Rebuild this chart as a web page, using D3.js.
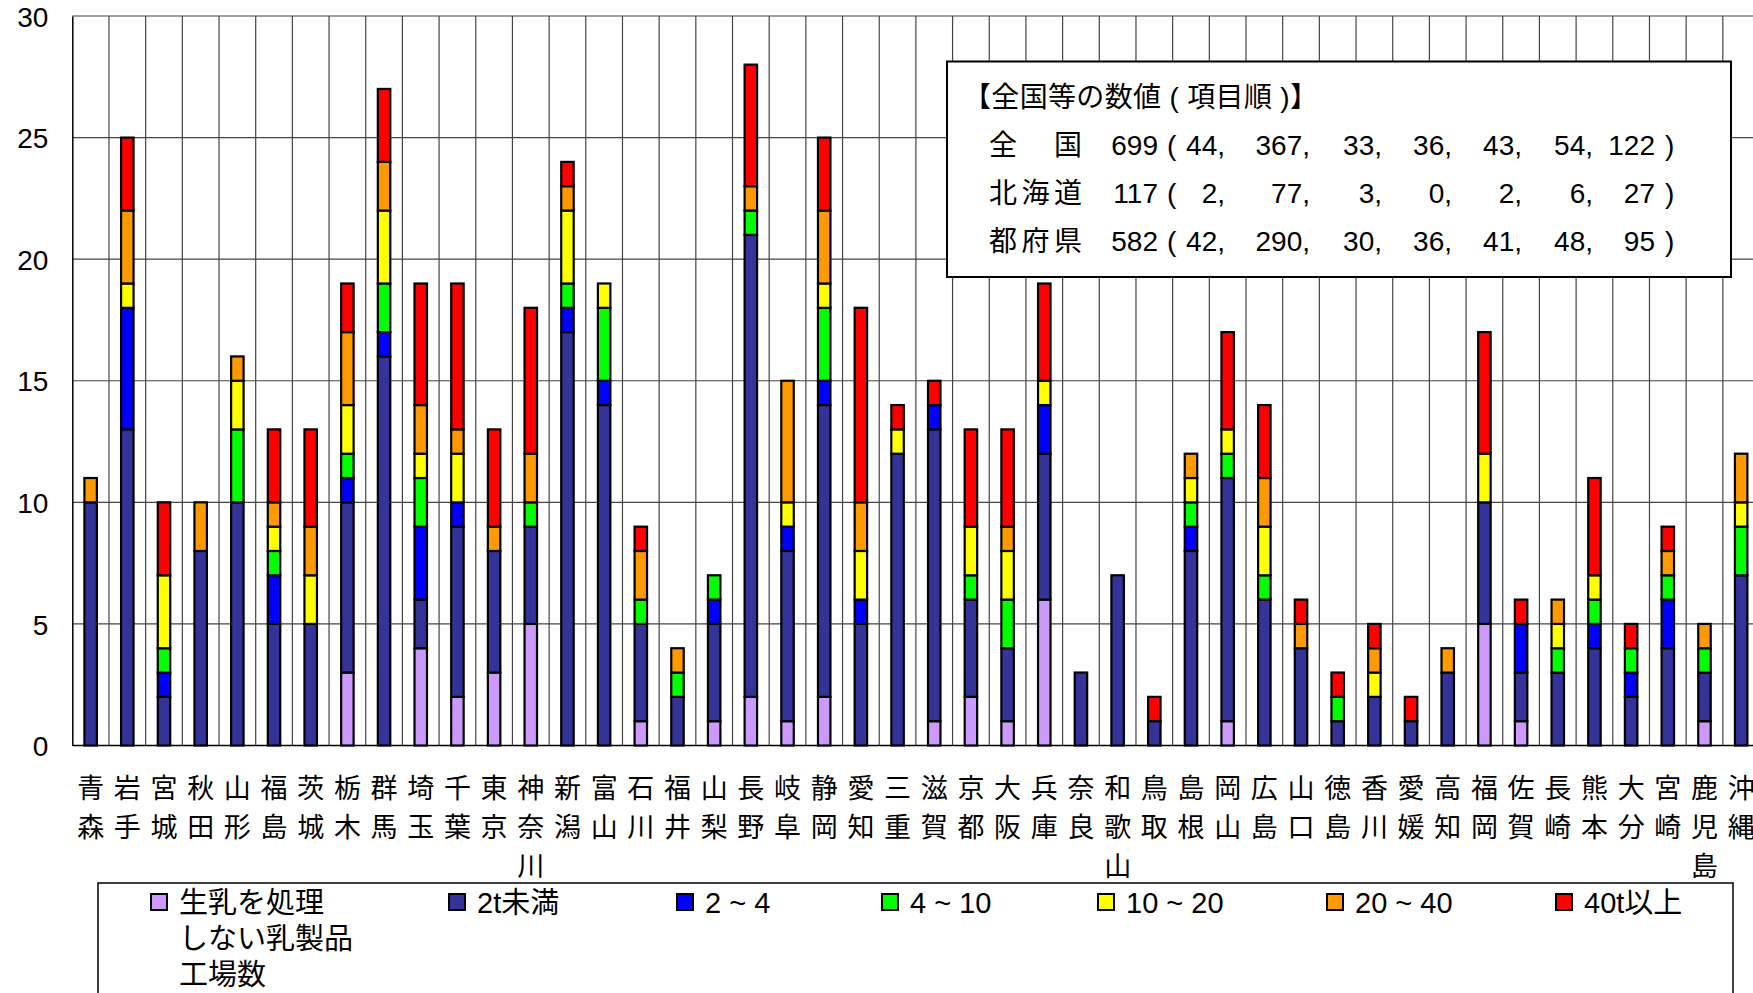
<!DOCTYPE html>
<html lang="ja">
<head>
<meta charset="utf-8">
<script src="https://cdn.jsdelivr.net/npm/d3@7"></script>
<style>
  body { margin: 0; background: #fff; }
  svg { display: block; }
  text { font-family: "Liberation Sans", "Noto Sans CJK JP", sans-serif; fill: #000; }
</style>
</head>
<body>
<div class="chartContainer"></div>
<script>
// categories (prefectures, Hokkaido excluded)
const prefectures = ['青森', '岩手', '宮城', '秋田', '山形', '福島', '茨城', '栃木', '群馬', '埼玉',
                     '千葉', '東京', '神奈川', '新潟', '富山', '石川', '福井', '山梨', '長野', '岐阜',
                     '静岡', '愛知', '三重', '滋賀', '京都', '大阪', '兵庫', '奈良', '和歌山', '鳥取',
                     '島根', '岡山', '広島', '山口', '徳島', '香川', '愛媛', '高知', '福岡', '佐賀',
                     '長崎', '熊本', '大分', '宮崎', '鹿児島', '沖縄'];

// factories by daily raw-milk volume
const raw     = [0,0,0,0,0,0,0,3,0,4, 2,3,5,0,0,1,0,1,2,1, 2,0,0,1,2,1,6,0,0,0, 0,1,0,0,0,0,0,0,5,1, 0,0,0,0,1,0];
const under2  = [10,13,2,8,10,5,5,7,16,2, 7,5,4,17,14,4,2,4,19,7, 12,5,12,12,4,3,6,3,7,1, 8,10,6,4,1,2,1,3,5,2, 3,4,2,4,2,7];
const t2to4   = [0,5,1,0,0,2,0,1,1,3, 1,0,0,1,1,0,0,1,0,1, 1,1,0,1,0,0,2,0,0,0, 1,0,0,0,0,0,0,0,0,2, 0,1,1,2,0,0];
const t4to10  = [0,0,1,0,3,1,0,1,2,2, 0,0,1,1,3,1,1,1,1,0, 3,0,0,0,1,2,0,0,0,0, 1,1,1,0,1,0,0,0,0,0, 1,1,1,1,1,2];
const t10to20 = [0,1,3,0,2,1,2,2,3,1, 2,0,0,3,1,0,0,0,0,1, 1,2,1,0,2,2,1,0,0,0, 1,1,2,0,0,1,0,0,2,0, 1,1,0,0,0,1];
const t20to40 = [1,3,0,2,1,1,2,3,2,2, 1,1,2,1,0,2,1,0,1,5, 3,2,0,0,0,1,0,0,0,0, 1,0,2,1,0,1,0,1,0,0, 1,0,0,1,1,2];
const over40  = [0,3,3,0,0,3,4,2,3,5, 6,4,6,1,0,1,0,0,5,0, 3,8,1,1,4,4,4,0,0,1, 0,4,3,1,1,1,1,0,5,1, 0,4,1,1,0,0];

const seriesKeys = ['raw', 'under2', 't2to4', 't4to10', 't10to20', 't20to40', 'over40'];
const seriesColors = ['#cc99ff', '#333399', '#0000ff', '#00ff00', '#ffff00', '#ff9900', '#ff0000'];
const legendLabels = [['生乳を処理', 'しない乳製品', '工場数'], ['2t未満'], ['2 ~ 4'], ['4 ~ 10'],
                      ['10 ~ 20'], ['20 ~ 40'], ['40t以上']];
const yTicks = [0, 5, 10, 15, 20, 25, 30];

// summary box
const summaryTitle = '【全国等の数値 ( 項目順 )】';
const summaryLabels = ['全　　国', '北海道', '都府県'];
const summaryTotals = [699, 117, 582];
const summaryNational = [44, 367, 33, 36, 43, 54, 122];
const summaryHokkaido = [2, 77, 3, 0, 2, 6, 27];
const summaryPrefs = [42, 290, 30, 36, 41, 48, 95];

window.addEventListener("load", () => {
  drawChart();
});

function drawChart() {
  const width = 1753, height = 993;
  const plot = { left: 72.3, right: 1759.5, top: 16, bottom: 745.5 };

  const svg = d3.select(".chartContainer")
    .append("svg")
    .attr("width", width)
    .attr("height", height);

  const x = d3.scaleBand().domain(prefectures).range([plot.left, plot.right]).padding(0);
  const y = d3.scaleLinear().domain([0, 30]).range([plot.bottom, plot.top]);

  // grid
  svg.append("g")
    .selectAll("line")
    .data(yTicks.slice(1))
    .enter()
    .append("line")
    .attr("x1", plot.left).attr("x2", plot.right)
    .attr("y1", d => y(d)).attr("y2", d => y(d))
    .attr("stroke", "#444").attr("stroke-width", 1.2);

  svg.append("g")
    .selectAll("line")
    .data(prefectures.slice(1))
    .enter()
    .append("line")
    .attr("x1", d => x(d)).attr("x2", d => x(d))
    .attr("y1", plot.top).attr("y2", plot.bottom)
    .attr("stroke", "#444").attr("stroke-width", 1.2);

  // axes
  const yAxis = d3.axisLeft(y).tickValues(yTicks).tickSize(0).tickPadding(24);
  const gy = svg.append("g")
    .attr("transform", "translate(" + plot.left + ",0)")
    .call(yAxis);
  gy.select(".domain").attr("stroke", "#000").attr("stroke-width", 1.5);
  gy.selectAll("text")
    .style("font-family", '"Liberation Sans", sans-serif')
    .style("font-size", "28px")
    .attr("dy", "0.36em");

  svg.append("line")
    .attr("x1", plot.left).attr("x2", plot.right)
    .attr("y1", plot.bottom).attr("y2", plot.bottom)
    .attr("stroke", "#000").attr("stroke-width", 1.5);

  // stacked bars
  const rows = prefectures.map((p, i) => ({
    name: p, raw: raw[i], under2: under2[i], t2to4: t2to4[i], t4to10: t4to10[i],
    t10to20: t10to20[i], t20to40: t20to40[i], over40: over40[i]
  }));
  const stacked = d3.stack().keys(seriesKeys)(rows);
  const barWidth = x.bandwidth() * 0.34;

  svg.append("g")
    .selectAll("g")
    .data(stacked)
    .enter()
    .append("g")
    .attr("fill", (d, i) => seriesColors[i])
    .selectAll("rect")
    .data(d => d.filter(s => s[1] > s[0]))
    .enter()
    .append("rect")
    .attr("x", d => x(d.data.name) + (x.bandwidth() - barWidth) / 2)
    .attr("width", barWidth)
    .attr("y", d => y(d[1]))
    .attr("height", d => y(d[0]) - y(d[1]))
    .attr("stroke", "#000")
    .attr("stroke-width", 2.2);

  // category labels, one character per line
  const labels = svg.append("g");
  prefectures.forEach(p => {
    Array.from(p).forEach((ch, j) => {
      labels.append("text")
        .attr("x", x(p) + x.bandwidth() / 2)
        .attr("y", 786 + j * 39)
        .attr("text-anchor", "middle")
        .attr("dominant-baseline", "central")
        .style("font-family", '"Noto Sans CJK JP", sans-serif')
        .style("font-size", "27px")
        .text(ch);
    });
  });

  // summary box
  const box = svg.append("g");
  box.append("rect")
    .attr("x", 947).attr("y", 61.5)
    .attr("width", 784).attr("height", 215.5)
    .attr("fill", "#fff").attr("stroke", "#000").attr("stroke-width", 2);

  box.append("text")
    .attr("x", 963).attr("y", 97)
    .attr("dominant-baseline", "central")
    .attr("textLength", 355).attr("lengthAdjust", "spacing")
    .style("font-size", "28px")
    .text(summaryTitle);

  const rowY = [145, 193, 241];
  const colRight = [1225, 1310, 1382, 1452, 1522, 1593, 1655];
  [summaryNational, summaryHokkaido, summaryPrefs].forEach((vals, r) => {
    box.append("text")
      .attr("x", 989).attr("y", rowY[r])
      .attr("dominant-baseline", "central")
      .attr("textLength", 93).attr("lengthAdjust", "spacing")
      .style("font-size", "28px")
      .text(summaryLabels[r]);
    box.append("text")
      .attr("x", 1158).attr("y", rowY[r])
      .attr("text-anchor", "end")
      .attr("dominant-baseline", "central")
      .style("font-size", "28px")
      .text(summaryTotals[r]);
    box.append("text")
      .attr("x", 1167).attr("y", rowY[r])
      .attr("dominant-baseline", "central")
      .style("font-size", "28px")
      .text("(");
    vals.forEach((v, k) => {
      box.append("text")
        .attr("x", colRight[k]).attr("y", rowY[r])
        .attr("text-anchor", "end")
        .attr("dominant-baseline", "central")
        .style("font-size", "28px")
        .text(k < vals.length - 1 ? v + "," : v);
    });
    box.append("text")
      .attr("x", 1665).attr("y", rowY[r])
      .attr("dominant-baseline", "central")
      .style("font-size", "28px")
      .text(")");
  });

  // legend
  const legend = svg.append("g");
  legend.append("rect")
    .attr("x", 98).attr("y", 883)
    .attr("width", 1635).attr("height", 140)
    .attr("fill", "#fff").attr("stroke", "#000").attr("stroke-width", 1.5);

  const legendX = [151, 449, 677, 882, 1098, 1327, 1556];
  legendLabels.forEach((lines, i) => {
    legend.append("rect")
      .attr("x", legendX[i]).attr("y", 894)
      .attr("width", 16).attr("height", 16)
      .attr("fill", seriesColors[i])
      .attr("stroke", "#000").attr("stroke-width", 2);
    lines.forEach((line, j) => {
      legend.append("text")
        .attr("x", legendX[i] + 28)
        .attr("y", 903 + j * 36)
        .attr("dominant-baseline", "central")
        .style("font-size", "29px")
        .text(line);
    });
  });
}
</script>
</body>
</html>
